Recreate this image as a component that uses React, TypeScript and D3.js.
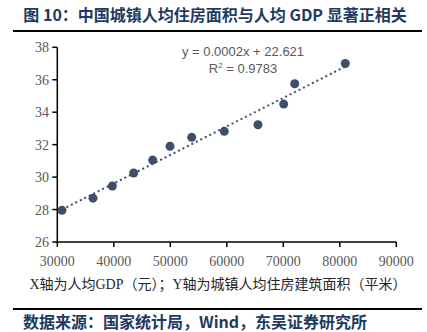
import React from "react";
import * as d3 from "d3";

const gdp = [30830, 36320, 39740, 43520, 46880, 49950, 53790, 59560, 65520, 70070, 72020, 80970];
const area = [27.95, 28.7, 29.45, 30.25, 31.05, 31.9, 32.45, 32.82, 33.23, 34.5, 35.75, 37.0];
const xTicks = [30000, 40000, 50000, 60000, 70000, 80000, 90000];
const yTicks = [26, 28, 30, 32, 34, 36, 38];
const title = "图 10：中国城镇人均住房面积与人均 GDP 显著正相关";
const eqLine1 = "y = 0.0002x + 22.621";
const eqR2 = "0.9783";
const caption = "X轴为人均GDP（元）；Y轴为城镇人均住房建筑面积（平米）";
const source = "数据来源：国家统计局，Wind，东吴证券研究所";

export default function App() {
  const W = 427, H = 332;
  const x = d3.scaleLinear().domain([30000, 90000]).range([57.3, 396.3]);
  const y = d3.scaleLinear().domain([26, 38]).range([242, 47.3]);
  const mx = d3.mean(gdp)!, my = d3.mean(area)!;
  let sxy = 0, sxx = 0;
  gdp.forEach((g, i) => { sxy += (g - mx) * (area[i] - my); sxx += (g - mx) ** 2; });
  const slope = sxy / sxx, icpt = my - slope * mx;
  const x0 = d3.min(gdp)!, x1 = d3.max(gdp)!;
  const tick = "#595959";
  const navy = "#3F4E6A";
  const serif = "'Liberation Serif', 'Noto Sans CJK SC', serif";
  return (
    <svg width={W} height={H} style={{ position: "absolute", left: 0, top: 0, background: "#fff" }}>
      <rect width={W} height={H} fill="#fff" />
      <text x={215} y={21} textAnchor="middle" fontFamily="'Noto Sans CJK SC', sans-serif" fontWeight="bold" fontSize={16} fill="#223A5E">{title}</text>
      <line x1={13} x2={422} y1={31} y2={31} stroke="#000" strokeWidth={1.8} />
      {/* axes */}
      <line x1={x(30000)} x2={x(30000)} y1={y(38)} y2={y(26)} stroke="#000" strokeWidth={1.5} />
      <line x1={x(30000)} x2={x(90000)} y1={y(26)} y2={y(26)} stroke="#000" strokeWidth={1.5} />
      {yTicks.map((t) => (
        <g key={"y" + t}>
          <line x1={x(30000) - 5} x2={x(30000)} y1={y(t)} y2={y(t)} stroke="#000" strokeWidth={1.5} />
          <text x={49} y={y(t) + 5} textAnchor="end" fontFamily={serif} fontSize={14} fill={tick}>{t}</text>
        </g>
      ))}
      {xTicks.map((t) => (
        <g key={"x" + t}>
          <line x1={x(t)} x2={x(t)} y1={y(26)} y2={y(26) + 5} stroke="#000" strokeWidth={1.5} />
          <text x={x(t)} y={266} textAnchor="middle" fontFamily={serif} fontSize={14} fill={tick}>{t}</text>
        </g>
      ))}
      {/* trendline */}
      <line x1={x(x0)} y1={y(slope * x0 + icpt)} x2={x(x1)} y2={y(slope * x1 + icpt)} stroke={navy} strokeWidth={2} strokeDasharray="2 3" />
      {gdp.map((g, i) => (
        <circle key={i} cx={x(g)} cy={y(area[i])} r={4.5} fill={navy} />
      ))}
      <text x={243} y={56} textAnchor="middle" fontFamily="'Liberation Sans', Arial, sans-serif" fontSize={13} fill={tick}>{eqLine1}</text>
      <text x={243} y={73} textAnchor="middle" fontFamily="'Liberation Sans', Arial, sans-serif" fontSize={13} fill={tick}>
        R<tspan fontSize={8} dy={-5}>2</tspan><tspan dy={5}>{" = " + eqR2}</tspan>
      </text>
      <text x={218} y={289} textAnchor="middle" fontFamily={serif} fontSize={14} fill="#262626">{caption}</text>
      <line x1={13} x2={422} y1={309} y2={309} stroke="#000" strokeWidth={1.8} />
      <text x={23} y={328} fontFamily="'Noto Sans CJK SC', sans-serif" fontWeight="bold" fontSize={16} fill="#223A5E">{source}</text>
    </svg>
  );
}
